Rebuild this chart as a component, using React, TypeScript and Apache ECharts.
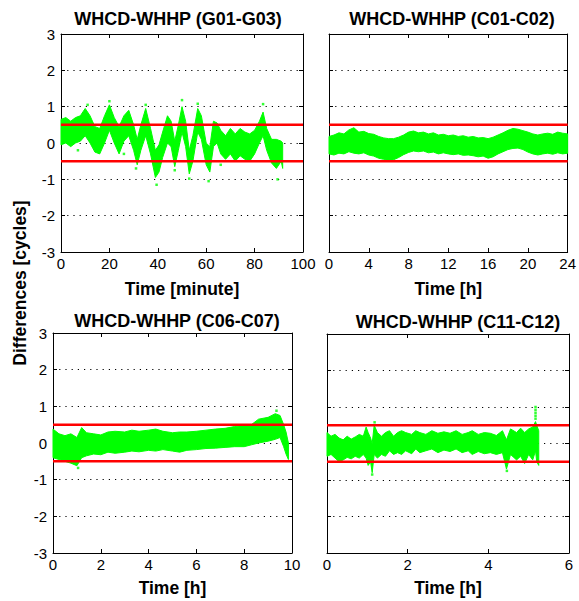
import React, { useEffect, useRef } from 'react';
import * as echarts from 'echarts';

const titles = ['WHCD-WHHP (G01-G03)', 'WHCD-WHHP (C01-C02)', 'WHCD-WHHP (C06-C07)', 'WHCD-WHHP (C11-C12)'];
const xNames = ['Time [minute]', 'Time [h]', 'Time [h]', 'Time [h]'];
const yName = 'Differences [cycles]';
const xMax = [100, 24, 10, 6];
const xStep = [20, 4, 2, 2];
const yMin = -3;
const yMax = 3;
const yStep = 1;
const thresholds = [-0.5, 0.5];

// envelope of the green point cloud: [time, low, high]
const g01g03: number[][] = [
  [0, -0.05, 0.65], [2, 0.0, 0.7], [4, -0.1, 0.6], [6, 0.0, 0.7], [8, 0.05, 0.75],
  [10, 0.2, 0.95], [12, 0.0, 0.75], [14, -0.25, 0.45], [16, -0.3, 0.4], [18, 0.0, 0.75],
  [20, 0.35, 1.05], [22, 0.0, 0.7], [24, -0.3, 0.45], [26, 0.05, 0.75], [28, 0.2, 0.9],
  [30, -0.2, 0.5], [31.5, -0.6, 0.1], [33, -0.2, 0.5], [35, 0.2, 0.95], [37, -0.3, 0.4],
  [39, -0.95, -0.2], [40.5, -0.8, -0.05], [42, -0.4, 0.3], [44, 0.0, 0.75], [45.5, -0.1, 0.6],
  [47, -0.65, 0.05], [48.5, -0.2, 0.5], [50, 0.3, 1.0], [51.5, -0.1, 0.6], [53, -0.85, -0.2],
  [54.5, -0.5, 0.2], [56.5, 0.3, 0.95], [58, 0.1, 0.75], [60, -0.6, 0.0], [61.5, -0.8, -0.1],
  [63, -0.1, 0.6], [64.5, 0.0, 0.55], [66, -0.3, 0.35], [68, -0.45, 0.2], [70, -0.3, 0.4],
  [72, -0.5, 0.25], [74, -0.35, 0.4], [76, -0.45, 0.3], [78, -0.5, 0.25], [80, -0.3, 0.35],
  [82, 0.0, 0.6], [83.5, 0.2, 0.85], [85, -0.2, 0.4], [87, -0.55, 0.1], [89, -0.7, 0.1],
  [91, -0.5, 0.05], [91.6, -0.7, 0.0],
];
const g01g03Outliers: number[][] = [
  [11, 1.05], [20, 1.15], [35, 1.05], [39.5, -1.15], [50, 1.18], [53, -0.98], [56.5, 1.08],
  [61, -1.05], [83.5, 1.07], [89.5, -1.0], [31, -0.7], [47, -0.75], [7, -0.2], [26, -0.3], [66, -0.6],
];

const c01c02: number[][] = [
  [0, -0.3, 0.18], [0.5, -0.33, 0.22], [1, -0.28, 0.28], [1.5, -0.3, 0.25], [2, -0.24, 0.36],
  [2.5, -0.28, 0.42], [3, -0.3, 0.3], [3.5, -0.27, 0.32], [4, -0.33, 0.26], [4.5, -0.36, 0.24],
  [5, -0.42, 0.18], [5.5, -0.45, 0.14], [6, -0.5, 0.12], [6.5, -0.46, 0.12], [7, -0.4, 0.16],
  [7.5, -0.32, 0.22], [8, -0.26, 0.3], [8.5, -0.22, 0.33], [9, -0.24, 0.28], [9.5, -0.22, 0.3],
  [10, -0.27, 0.25], [10.5, -0.25, 0.28], [11, -0.3, 0.22], [11.5, -0.27, 0.24], [12, -0.3, 0.2],
  [12.5, -0.32, 0.22], [13, -0.3, 0.18], [13.5, -0.34, 0.2], [14, -0.33, 0.16], [14.5, -0.35, 0.18],
  [15, -0.38, 0.14], [15.5, -0.36, 0.15], [16, -0.42, 0.12], [16.5, -0.38, 0.16], [17, -0.3, 0.22],
  [17.5, -0.24, 0.28], [18, -0.18, 0.35], [18.5, -0.15, 0.4], [19, -0.14, 0.38], [19.5, -0.18, 0.34],
  [20, -0.25, 0.3], [20.5, -0.3, 0.25], [21, -0.33, 0.22], [21.5, -0.3, 0.25], [22, -0.28, 0.27],
  [22.5, -0.31, 0.24], [23, -0.27, 0.3], [23.5, -0.3, 0.27], [24, -0.28, 0.25],
];

const c06c07: number[][] = [
  [0, -0.4, 0.38], [0.25, -0.45, 0.25], [0.5, -0.5, 0.2], [0.75, -0.55, 0.25], [1.0, -0.62, 0.15],
  [1.2, -0.4, 0.42], [1.4, -0.35, 0.28], [1.7, -0.3, 0.25], [2.0, -0.32, 0.22], [2.3, -0.25, 0.3],
  [2.6, -0.28, 0.32], [3.0, -0.25, 0.3], [3.3, -0.22, 0.35], [3.6, -0.24, 0.32], [4.0, -0.2, 0.35],
  [4.3, -0.22, 0.38], [4.6, -0.18, 0.32], [5.0, -0.22, 0.28], [5.3, -0.25, 0.3], [5.6, -0.2, 0.3],
  [6.0, -0.18, 0.32], [6.4, -0.15, 0.35], [6.8, -0.14, 0.38], [7.2, -0.12, 0.4], [7.6, -0.1, 0.45],
  [8.0, -0.1, 0.48], [8.3, -0.05, 0.5], [8.6, 0.0, 0.65], [9.0, 0.05, 0.7], [9.3, 0.1, 0.8],
  [9.5, 0.15, 0.75], [9.65, -0.1, 0.5], [9.75, -0.3, 0.3], [9.85, -0.45, 0.0],
];
const c06c07Outliers: number[][] = [[9.35, 0.88], [1.05, -0.68]];

const c11c12: number[][] = [
  [0, -0.35, 0.3], [0.1, -0.3, 0.2], [0.2, -0.4, 0.25], [0.3, -0.5, 0.15], [0.4, -0.45, 0.1],
  [0.5, -0.38, 0.2], [0.6, -0.42, 0.12], [0.7, -0.35, 0.18], [0.8, -0.4, 0.25], [0.9, -0.3, 0.2],
  [0.97, -0.4, 0.45], [1.02, -0.6, 0.3], [1.08, -0.5, 0.15], [1.12, -0.8, 0.0], [1.17, -0.3, 0.5],
  [1.25, -0.4, 0.3], [1.35, -0.3, 0.2], [1.45, -0.35, 0.3], [1.55, -0.2, 0.35], [1.65, -0.3, 0.2],
  [1.75, -0.25, 0.3], [1.85, -0.3, 0.35], [1.95, -0.2, 0.3], [2.1, -0.28, 0.25], [2.2, -0.15, 0.35],
  [2.3, -0.25, 0.3], [2.45, -0.2, 0.25], [2.6, -0.15, 0.35], [2.75, -0.25, 0.28], [2.9, -0.18, 0.32],
  [3.05, -0.22, 0.28], [3.2, -0.15, 0.35], [3.35, -0.25, 0.25], [3.5, -0.2, 0.3], [3.6, -0.3, 0.35],
  [3.75, -0.22, 0.25], [3.9, -0.28, 0.3], [4.05, -0.25, 0.28], [4.2, -0.3, 0.22], [4.35, -0.25, 0.35],
  [4.45, -0.7, 0.1], [4.55, -0.3, 0.4], [4.7, -0.45, 0.3], [4.8, -0.35, 0.42], [4.9, -0.55, 0.3],
  [5.0, -0.3, 0.4], [5.1, -0.45, 0.45], [5.17, -0.2, 0.6], [5.2, -0.5, 0.5], [5.25, -0.6, 0.35],
];
const c11c12Outliers: number[][] = [
  [5.17, 1.0], [5.17, 0.92], [5.17, 0.84], [5.17, 0.76], [5.17, 0.68], [1.12, -0.85], [1.18, 0.58], [4.46, -0.75],
];

const bands = [g01g03, c01c02, c06c07, c11c12];
const outliers = [g01g03Outliers, [] as number[][], c06c07Outliers, c11c12Outliers];

const FONT = '"Liberation Sans", Arial, Helvetica, sans-serif';
const GREEN = '#00ff00';

const grids = [
  { left: 61, top: 34, width: 242, height: 218 },
  { left: 329, top: 34, width: 242, height: 218 },
  { left: 53, top: 333, width: 239, height: 220 },
  { left: 327, top: 334, width: 242, height: 219 },
];
const titlePos = [[178, 18.5], [452, 18.5], [177, 321], [458, 321.5]];
const nameGaps = [28, 28, 26, 26];
const showYLabels = [true, false, true, false];

export default function App() {
  const ref = useRef<HTMLDivElement>(null);
  useEffect(() => {
    if (!ref.current) return;
    const chart = echarts.init(ref.current, undefined, { renderer: 'svg' });
    const xAxis: any[] = [];
    const yAxis: any[] = [];
    const series: any[] = [];
    const graphic: any[] = [];
    grids.forEach((g, i) => {
      const tick = { show: true, inside: true, length: 4, lineStyle: { color: '#000', width: 1 } };
      const line = { show: true, onZero: false, lineStyle: { color: '#000', width: 1 } };
      xAxis.push({
        type: 'value', gridIndex: i, position: 'bottom', min: 0, max: xMax[i], interval: xStep[i],
        axisLine: line, axisTick: tick, splitLine: { show: false },
        axisLabel: { color: '#000', fontSize: 15, fontFamily: FONT, margin: 4 },
        name: xNames[i], nameLocation: 'middle', nameGap: nameGaps[i],
        nameTextStyle: { color: '#000', fontSize: 17.5, fontWeight: 'bold', fontFamily: FONT },
      });
      xAxis.push({
        type: 'value', gridIndex: i, position: 'top', min: 0, max: xMax[i], interval: xStep[i],
        axisLine: line, axisTick: tick, splitLine: { show: false }, axisLabel: { show: false },
      });
      yAxis.push({
        type: 'value', gridIndex: i, position: 'left', min: yMin, max: yMax, interval: yStep,
        axisLine: line, axisTick: tick,
        splitLine: { show: true, lineStyle: { color: '#000', width: 1.2, type: [1.2, 5] } },
        axisLabel: { show: showYLabels[i], color: '#000', fontSize: 15, fontFamily: FONT, margin: 6 },
      });
      yAxis.push({
        type: 'value', gridIndex: i, position: 'right', min: yMin, max: yMax, interval: yStep,
        axisLine: line, axisTick: tick, splitLine: { show: false }, axisLabel: { show: false },
      });
      const band = bands[i];
      series.push({
        type: 'custom', xAxisIndex: i * 2, yAxisIndex: i * 2, z: 2,
        data: [[band[0][0], band[0][1]]],
        renderItem: (_p: any, api: any) => {
          const upper = band.map((p) => api.coord([p[0], p[2]]));
          const lower = band.slice().reverse().map((p) => api.coord([p[0], p[1]]));
          return {
            type: 'polygon',
            shape: { points: upper.concat(lower) },
            style: { fill: GREEN, stroke: GREEN, lineWidth: 1 },
          };
        },
      });
      if (outliers[i].length) {
        series.push({
          type: 'scatter', xAxisIndex: i * 2, yAxisIndex: i * 2, z: 2,
          symbol: 'rect', symbolSize: 2.5, itemStyle: { color: GREEN },
          data: outliers[i],
        });
      }
      thresholds.forEach((t) => {
        series.push({
          type: 'line', xAxisIndex: i * 2, yAxisIndex: i * 2, z: 3,
          symbol: 'none', lineStyle: { color: '#ff0000', width: 2.5 },
          data: [[0, t], [xMax[i], t]],
        });
      });
      graphic.push({
        type: 'text', x: titlePos[i][0], y: titlePos[i][1],
        style: { text: titles[i], fill: '#000', font: `bold 18px ${FONT}`, textAlign: 'center', textVerticalAlign: 'middle' },
      });
    });
    graphic.push({
      type: 'text', x: 20, y: 283, rotation: Math.PI / 2,
      style: { text: yName, fill: '#000', font: `bold 17.5px ${FONT}`, textAlign: 'center', textVerticalAlign: 'middle' },
    });
    chart.setOption({
      animation: false,
      backgroundColor: '#fff',
      grid: grids.map((g) => ({ ...g, containLabel: false })),
      xAxis,
      yAxis,
      series,
      graphic,
    });
    return () => chart.dispose();
  }, []);
  return <div ref={ref} style={{ position: 'fixed', left: 0, top: 0, width: 579, height: 601 }} />;
}
